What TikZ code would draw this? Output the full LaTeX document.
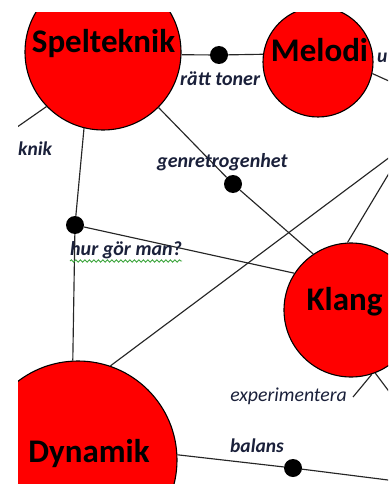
\documentclass[tikz,border=0pt]{standalone}
\usepackage{fontspec}
\setmainfont{Carlito}
\usetikzlibrary{decorations.pathmorphing}

\definecolor{bubblered}{RGB}{255,0,0}
\definecolor{labelink}{RGB}{26,32,58}
\definecolor{spellgreen}{RGB}{60,165,60}

\tikzset{
  bubble/.style={circle, draw=black, line width=1.1pt, fill=bubblered, inner sep=0pt},
  headline/.style={anchor=base, inner sep=0pt, font=\bfseries\fontsize{33}{33}\selectfont},
  joint/.style={circle, fill=black, inner sep=0pt, minimum size=18pt},
  linklabel/.style={anchor=base west, inner sep=0pt, text=labelink,
    font=\bfseries\itshape\fontsize{20}{20}\selectfont},
  smalllabel/.style={linklabel, font=\bfseries\itshape\fontsize{19.5}{19.5}\selectfont},
  lightlabel/.style={linklabel, font=\itshape\fontsize{19.8}{19.8}\selectfont},
  link/.style={draw=black!85, line width=1.15pt},
  squiggle/.style={draw=spellgreen, line width=0.9pt, decorate,
    decoration={snake, amplitude=1.2pt, segment length=4.5pt}}
}

\begin{document}
\begin{tikzpicture}[x=1pt, y=-1pt]
\useasboundingbox (0,0) rectangle (388,484);
\begin{scope}
\clip (18,13) rectangle (388,484);

% topic bubbles
\node[bubble, minimum size=156pt] (spel) at (103,52) {};
\node[bubble, minimum size=110pt] (mel)  at (318,62) {};
\node[bubble, minimum size=134pt] (klang) at (351,310) {};
\node[bubble, minimum size=198pt] (dyn)  at (78,460) {};

% junction dots
\node[joint] (jB) at (219,55) {};
\node[joint] (jG) at (233,184) {};
\node[joint] (jA) at (75,225) {};
\node[joint] (jC) at (293,468) {};

% loose ends of connectors
\coordinate (knikEnd) at (0,139);
\coordinate (longEnd) at (410,142);
\coordinate (klangUpEnd) at (400,155);
\coordinate (melEnd) at (400,86);
\coordinate (expEnd) at (353,397);
\coordinate (klangDownEnd) at (400,406);
\coordinate (balEnd) at (400,481.5);

% connectors
\path[link] (spel.358) -- (jB) -- (mel.172.7);
\path[link] (spel.224.5) -- (knikEnd);
\path[link] (spel.256) -- (jA) -- (dyn.93);
\path[link] (spel.315.5) -- (jG) -- (klang.124.4);
\path[link] (jA) -- (klang.147.5);
\path[link] (dyn.71) -- (longEnd);
\path[link] (klang.93.4) -- (klangUpEnd);
\path[link] (mel.348.7) -- (melEnd);
\path[link] (klang.288) -- (expEnd);
\path[link] (klang.291.8) -- (klangDownEnd);
\path[link] (dyn.3) -- (jC) -- (balEnd);

% topic names
\node[headline] (spelT) at (103.5,53) {Spelteknik};
\node[headline] (melT) at (319.5,62) {Melodi};
\node[headline] (klangT) at (344.5,310) {Klang};
\node[headline] (dynT) at (89,462) {Dynamik};

% connector labels
\node[linklabel] (rt) at (180,86) {rätt toner};
\node[linklabel] (gr) at (157,167) {genretrogenhet};
\node[linklabel] (hur) at (70,255) {hur gör man?};
\node[lightlabel, anchor=base east] (exp) at (347,401) {experimentera};
\node[smalllabel] (bal) at (230,452) {balans};
\node[smalllabel] (kn) at (18,155) {knik};
\node[smalllabel] (uu) at (377,63) {u};
\path[squiggle] ([yshift=-6pt]hur.base west) -- ([yshift=-6pt]hur.base east);
\end{scope}
\end{tikzpicture}
\end{document}
